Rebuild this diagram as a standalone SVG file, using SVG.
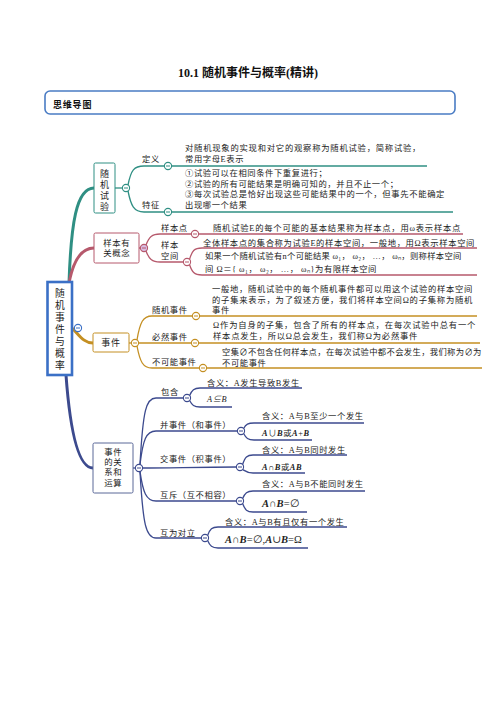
<svg xmlns="http://www.w3.org/2000/svg" xmlns:xlink="http://www.w3.org/1999/xlink" width="496" height="702" viewBox="0 0 496 702">
<style>
.t{font-family:"Liberation Serif","Noto Sans CJK SC",serif;font-size:8.3px;fill:#222;letter-spacing:0.6px}
.lb{font-family:"Liberation Serif","Noto Sans CJK SC",serif;font-size:8.3px;fill:#222;letter-spacing:0.6px}
.nd{font-family:"Liberation Serif","Noto Sans CJK SC",sans-serif;font-size:9px;fill:#222;text-anchor:middle}
.nd2{font-family:"Liberation Serif","Noto Sans CJK SC",sans-serif;font-size:8.4px;fill:#222;text-anchor:middle;letter-spacing:0.6px}
.m{font-family:"Liberation Serif","DejaVu Serif",serif;font-style:italic;font-weight:bold}
.teal{stroke:#2f8f83;fill:none}
.rose{stroke:#b6596c;fill:none}
.gold{stroke:#c48f22;fill:none}
.navy{stroke:#3c4a8e;fill:none}
.br{stroke-width:3;stroke-linecap:round}
.ln{stroke-width:1.3}
</style>
<defs>
<g id="mn"><circle r="3.6" fill="#fff" stroke-width="1.1"/><path d="M-2 0H2" stroke-width="1"/></g>
</defs>
<rect width="496" height="702" fill="#fff"/>
<text x="248" y="77" text-anchor="middle" font-family="Liberation Serif,Noto Sans CJK SC,serif" font-weight="bold" font-size="12" fill="#111">10.1  随机事件与概率(精讲)</text>
<g id="header">
<rect x="45" y="91" width="410" height="23" rx="5" fill="none" stroke="#4a7cc4" stroke-width="1.6"/>
<text x="53" y="108" font-family="Noto Sans CJK SC,sans-serif" font-weight="bold" font-size="9" letter-spacing="0.8" fill="#111">思维导图</text>
</g>

<g id="connectors">
<path class="teal br" d="M69 283C71 225 76 188 94 188"/>
<path class="rose br" d="M69 283C73 262 80 248 94 248"/>
<path class="gold br" d="M72 328C80 336 84 343 93 343"/>
<path class="navy br" d="M66 375C70 430 78 468 93 468"/>
<g class="teal ln">
<path d="M115 188H122.4"/>
<path d="M128 185C131 170 134 166 144 166H164.4"/>
<path d="M128 191C131 206 134 212 144 212H164.4"/>
<path d="M171.6 166H427"/>
<path d="M171.6 212H453"/>
</g>
<g class="rose ln">
<path d="M139 248H140.4"/>
<path d="M146 245C149 237 152 234 160 234H191.4"/>
<path d="M146 251C149 259 152 262 160 262H183.4"/>
<path d="M198.6 234H463"/>
<path d="M189.5 259.5C192 251 194 248 202 248H477"/>
<path d="M189.5 264.5C192 272 194 275 202 275H477"/>
</g>
<g class="gold ln">
<path d="M129 343H131.4"/>
<path d="M137 340C140 322 143 316 152 316H192.4"/>
<path d="M138.6 343H191.4"/>
<path d="M137 346C140 362 143 368 152 368H199.4"/>
<path d="M199.6 316H477"/>
<path d="M198.6 343H480"/>
<path d="M206.6 368H482"/>
</g>
<g class="navy ln">
<path d="M133 468H135.4"/>
<path d="M140 464.4C143 410 146 398 156 398H183.4"/>
<path d="M140 464.4C143 440 146 431 156 431H237.4"/>
<path d="M142.6 468C170 468 200 467 236.4 467"/>
<path d="M140 471.6C143 492 146 501 156 501H236.4"/>
<path d="M140 471.6C143 525 146 538 156 538H201.4"/>
<path d="M189.6 395.5C192 390 194 388 200 388H302"/>
<path d="M189.6 400.5C192 405 194 407 200 407H232"/>
<path d="M243.6 428.5C246 424 248 423 254 423H364"/>
<path d="M243.6 433.5C246 438 248 440 254 440H312"/>
<path d="M242.6 464.5C245 457 247 455 253 455H347"/>
<path d="M242.6 469.5C245 471 247 473 253 473H305"/>
<path d="M242.6 498.5C245 493 247 491 253 491H365"/>
<path d="M242.6 503.5C245 510 247 512 253 512H307"/>
<path d="M207.6 535.5C210 529 212 527 218 527H347"/>
<path d="M207.6 540.5C210 546 212 548 218 548H308"/>
</g>
<use href="#mn" x="168" y="166" stroke="#2f8f83"/>
<use href="#mn" x="168" y="212" stroke="#2f8f83"/>
<use href="#mn" x="195" y="234" stroke="#b6596c"/>
<use href="#mn" x="187" y="262" stroke="#b6596c"/>
<use href="#mn" x="196" y="316" stroke="#c48f22"/>
<use href="#mn" x="195" y="343" stroke="#c48f22"/>
<use href="#mn" x="203" y="368" stroke="#c48f22"/>
<use href="#mn" x="187" y="398" stroke="#3c4a8e"/>
<use href="#mn" x="241" y="431" stroke="#3c4a8e"/>
<use href="#mn" x="240" y="467" stroke="#3c4a8e"/>
<use href="#mn" x="240" y="501" stroke="#3c4a8e"/>
<use href="#mn" x="205" y="538" stroke="#3c4a8e"/>
</g>

<g id="root">
<rect x="47.5" y="282" width="24.5" height="93" fill="#fff" stroke="#3b70c6" stroke-width="2.6"/>
<text font-family="Liberation Serif,Noto Sans CJK SC,sans-serif" font-size="9.8" fill="#222" text-anchor="middle"><tspan x="59.8" y="297">随</tspan><tspan x="59.8" y="309">机</tspan><tspan x="59.8" y="321">事</tspan><tspan x="59.8" y="333">件</tspan><tspan x="59.8" y="345">与</tspan><tspan x="59.8" y="357">概</tspan><tspan x="59.8" y="369">率</tspan></text>
<use href="#mn" x="78" y="328" stroke="#3b70c6"/>
</g>

<g id="n-shiyan">
<rect x="94" y="163" width="21" height="50" rx="1.5" fill="#fff" stroke="#2f8f83" stroke-width="1"/>
<text class="nd"><tspan x="104.5" y="176.5">随</tspan><tspan x="104.5" y="187.5">机</tspan><tspan x="104.5" y="198.5">试</tspan><tspan x="104.5" y="209.5">验</tspan></text>
<use href="#mn" x="126" y="188" stroke="#2f8f83"/>
</g>
<g id="n-dingyi">
<text class="lb" x="142" y="162">定义</text>
<text class="t"><tspan x="185" y="151" textLength="236" lengthAdjust="spacing">对随机现象的实现和对它的观察称为随机试验，简称试验，</tspan><tspan x="185" y="161.5">常用字母E表示</tspan></text>
</g>
<g id="n-tezheng">
<text class="lb" x="142" y="208">特征</text>
<text class="t"><tspan x="185" y="176">①试验可以在相同条件下重复进行；</tspan><tspan x="185" y="186.5">②试验的所有可能结果是明确可知的，并且不止一个；</tspan><tspan x="185" y="197" textLength="260" lengthAdjust="spacing">③每次试验总是恰好出现这些可能结果中的一个，但事先不能确定</tspan><tspan x="185" y="207.5">出现哪一个结果</tspan></text>
</g>

<g id="n-yangben">
<rect x="94" y="233" width="45" height="30" rx="1.5" fill="#fff" stroke="#b6596c" stroke-width="1"/>
<text class="nd2"><tspan x="116.8" y="246.2">样本有</tspan><tspan x="116.8" y="256.4">关概念</tspan></text>
<circle cx="144" cy="248" r="3.6" fill="#d9bde3" stroke="#b6596c" stroke-width="1.1"/><path d="M142 248H146" stroke="#b6596c"/>
</g>
<g id="n-ybd">
<text class="lb" x="161" y="230.5">样本点</text>
<text class="t" x="213" y="230.5" textLength="248" lengthAdjust="spacing">随机试验E的每个可能的基本结果称为样本点，用ω表示样本点</text>
</g>
<g id="n-ybkj">
<text class="lb"><tspan x="161" y="248">样本</tspan><tspan x="161" y="259">空间</tspan></text>
<text class="t" x="203" y="246" textLength="272" lengthAdjust="spacing">全体样本点的集合称为试验E的样本空间，一般地，用Ω表示样本空间</text>
<text class="t"><tspan x="205" y="258.5" textLength="257" lengthAdjust="spacing">如果一个随机试验有n个可能结果 ω₁， ω₂， …， ωₙ，则称样本空间</tspan><tspan x="205" y="271.5" textLength="172" lengthAdjust="spacing">间 Ω＝{ ω₁， ω₂， …， ωₙ}为有限样本空间</tspan></text>
</g>

<g id="n-shijian">
<rect x="93" y="333" width="36" height="19" rx="1.5" fill="#fff" stroke="#c48f22" stroke-width="1"/>
<text class="nd" x="111" y="345.5" letter-spacing="0.8">事件</text>
<use href="#mn" x="135" y="343" stroke="#c48f22"/>
</g>
<g id="n-sjsj">
<text class="lb" x="152" y="313">随机事件</text>
<text class="t"><tspan x="212" y="292" textLength="261" lengthAdjust="spacing">一般地，随机试验中的每个随机事件都可以用这个试验的样本空间</tspan><tspan x="212" y="302.5" textLength="261" lengthAdjust="spacing">的子集来表示，为了叙述方便，我们将样本空间Ω的子集称为随机</tspan><tspan x="212" y="313">事件</tspan></text>
</g>
<g id="n-brsj">
<text class="lb" x="152" y="339.5">必然事件</text>
<text class="t"><tspan x="213" y="328" textLength="263" lengthAdjust="spacing">Ω作为自身的子集，包含了所有的样本点，在每次试验中总有一个</tspan><tspan x="213" y="338.5" textLength="205" lengthAdjust="spacing">样本点发生，所以Ω总会发生，我们称Ω为必然事件</tspan></text>
</g>
<g id="n-bknsj">
<text class="lb" x="152" y="365">不可能事件</text>
<text class="t"><tspan x="222" y="355" textLength="260" lengthAdjust="spacing">空集∅不包含任何样本点，在每次试验中都不会发生，我们称为∅为</tspan><tspan x="222" y="365.5">不可能事件</tspan></text>
</g>

<g id="n-guanxi">
<rect x="93" y="443" width="40" height="50" rx="1.5" fill="#fff" stroke="#5a6898" stroke-width="1"/>
<text class="nd2"><tspan x="113.3" y="455">事件</tspan><tspan x="113.3" y="465.2">的关</tspan><tspan x="113.3" y="475.4">系和</tspan><tspan x="113.3" y="485.6">运算</tspan></text>
<use href="#mn" x="139" y="468" stroke="#3c4a8e"/>
</g>
<g id="n-baohan">
<text class="lb" x="161" y="395">包含</text>
<text class="t" x="207" y="385.5">含义：A发生导致B发生</text>
<text class="t" x="207" y="401.5" font-style="italic">A⊆B</text>
</g>
<g id="n-bing">
<text class="lb" x="160" y="427.5">并事件（和事件）</text>
<text class="t" x="262" y="418.5">含义：A与B至少一个发生</text>
<text class="t" x="262" y="436"><tspan class="m">A</tspan>∪<tspan class="m">B</tspan>或<tspan class="m">A</tspan>+<tspan class="m">B</tspan></text>
</g>
<g id="n-jiao">
<text class="lb" x="160" y="462">交事件（积事件）</text>
<text class="t" x="262" y="452.5">含义：A与B同时发生</text>
<text class="t" x="262" y="470"><tspan class="m">A</tspan>∩<tspan class="m">B</tspan>或<tspan class="m">AB</tspan></text>
</g>
<g id="n-huchi">
<text class="lb" x="160" y="497.5">互斥（互不相容）</text>
<text class="t" x="262" y="486.5">含义：A与B不能同时发生</text>
<text x="262" y="506.5" font-family="Liberation Serif,DejaVu Serif,serif" font-size="10.5" fill="#222"><tspan class="m">A</tspan>∩<tspan class="m">B</tspan>=∅</text>
</g>
<g id="n-duili">
<text class="lb" x="160" y="535.5">互为对立</text>
<text class="t" x="225" y="524.5">含义：A与B有且仅有一个发生</text>
<text x="225" y="542.5" font-family="Liberation Serif,DejaVu Serif,serif" font-size="10.5" fill="#222"><tspan class="m">A</tspan>∩<tspan class="m">B</tspan>=∅,<tspan class="m">A</tspan>∪<tspan class="m">B</tspan>=Ω</text>
</g>
</svg>
